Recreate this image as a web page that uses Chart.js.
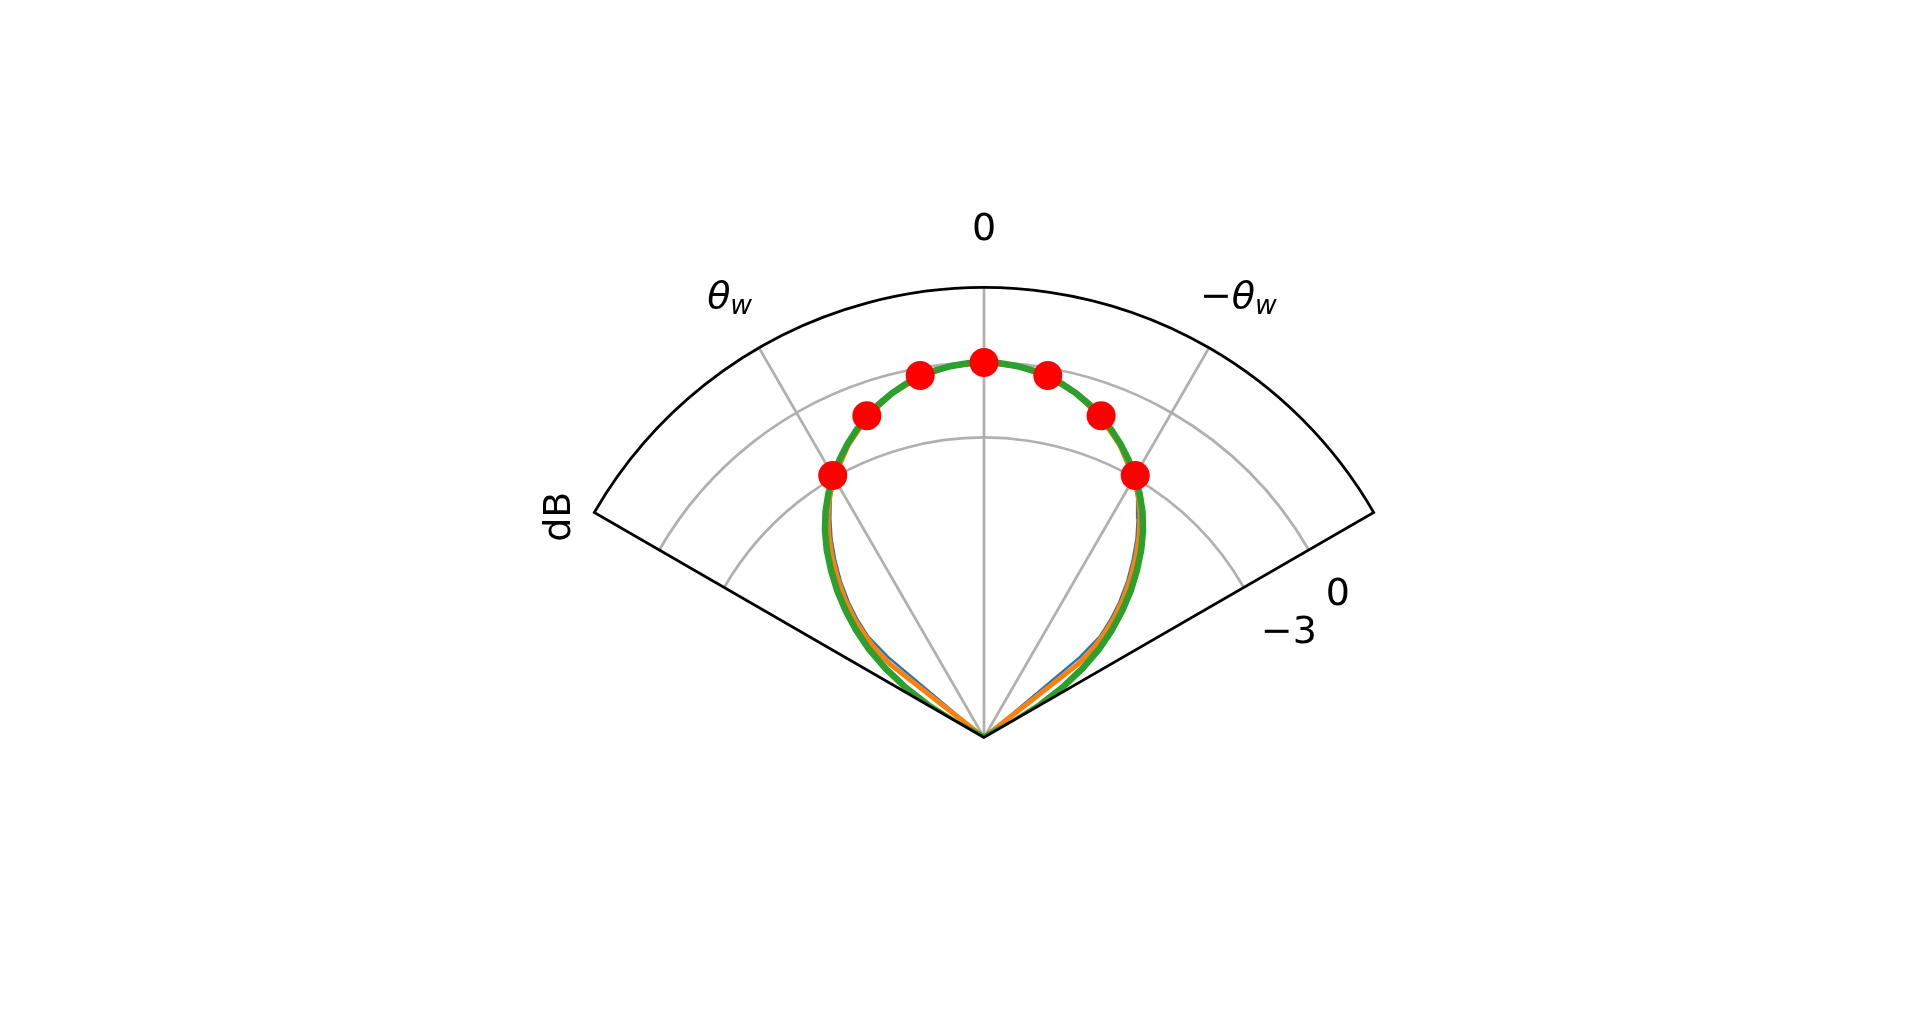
<!DOCTYPE html>
<html><head><meta charset="utf-8">
<script src="https://cdn.jsdelivr.net/npm/chart.js@4.4.1/dist/chart.umd.min.js"></script>
<style>html,body{margin:0;padding:0;background:#fff;overflow:hidden}canvas{display:block}</style>
</head><body>
<canvas id="c" width="1920" height="1016"></canvas>
<script>
// ---- radial / angular axes ----
const R_MIN_DB = -15;
const R_MAX_DB = 3;
const SECTOR_DEG = 60;
const rTicks = [-3, 0];
const rTickLabels = ['\u22123', '0'];
const thetaTicks = [30, 0, -30];
const thetaTickMain = ['\u03B8', '0', '\u2212\u03B8'];
const thetaTickSub = ['w', '', 'w'];
const radialAxisLabel = 'dB';

// ---- series (one half, mirrored about 0) : angle in degrees, level in dB ----
const blueAngles   = [0, 5, 10, 15, 20, 25, 30, 32.5, 35, 37.5, 40, 42.5, 45, 47, 48.9, 50, 51];
const blueDb       = [0, -0.08, -0.33, -0.77, -1.37, -2.15, -3.05, -3.6, -4.28, -4.98, -5.75, -6.52, -7.35, -8.08, -8.86, -10.0, -15];
const orangeAngles = [0, 5, 10, 15, 20, 25, 30, 32.5, 35, 37.5, 40, 42.5, 45, 47.5, 49.5, 51, 52, 53.5];
const orangeDb     = [0, -0.08, -0.33, -0.76, -1.35, -2.12, -3.0, -3.52, -4.12, -4.8, -5.55, -6.32, -7.1, -7.97, -8.77, -9.48, -10.2, -15];
const greenAngles  = [0, 2.5, 5, 7.5, 10, 12.5, 15, 17.5, 20, 22.5, 25, 27.5, 30, 32.5, 35, 37.5, 40, 42.5, 45, 47.5, 50, 52.5, 55, 57.5, 60, 62.5, 65];
const greenDb      = [0, -0.02, -0.08, -0.19, -0.33, -0.52, -0.75, -1.02, -1.33, -1.68, -2.06, -2.48, -2.95, -3.42, -3.95, -4.55, -5.22, -5.95, -6.7, -7.5, -8.33, -9.2, -10.2, -11.3, -12.5, -13.8, -15];
const dotAngles    = [-30, -20, -10, 0, 10, 20, 30];
const dotDb        = [-2.9, -1.3, -0.3, 0, -0.3, -1.3, -2.9];

const D2R = Math.PI / 180;
function toXY(deg, db) {
  const r = Math.max(db - R_MIN_DB, 0);
  return { x: -r * Math.sin(deg * D2R), y: r * Math.cos(deg * D2R) };
}
function mirrored(angles, dbs) {
  const pts = [];
  for (let i = angles.length - 1; i >= 1; i--) pts.push(toXY(-angles[i], dbs[i]));
  for (let i = 0; i < angles.length; i++) pts.push(toXY(angles[i], dbs[i]));
  return pts;
}

const FONT = '"DejaVu Sans", "Liberation Sans", sans-serif';

const polarDecor = {
  id: 'polarDecor',
  geom(chart) {
    const { x, y } = chart.scales;
    const cx = x.getPixelForValue(0), cy = y.getPixelForValue(0);
    const k = x.getPixelForValue(1) - cx;
    return { cx, cy, k, R: (R_MAX_DB - R_MIN_DB) * k, s: SECTOR_DEG * D2R };
  },
  beforeDatasetsDraw(chart) {
    const ctx = chart.ctx;
    const { cx, cy, k, R, s } = this.geom(chart);
    ctx.save();
    ctx.strokeStyle = '#b0b0b0';
    ctx.lineWidth = 2.7;
    for (const t of rTicks) {
      ctx.beginPath();
      ctx.arc(cx, cy, (t - R_MIN_DB) * k, -Math.PI / 2 - s, -Math.PI / 2 + s);
      ctx.stroke();
    }
    for (const th of thetaTicks) {
      const a = th * D2R;
      ctx.beginPath();
      ctx.moveTo(cx, cy);
      ctx.lineTo(cx - R * Math.sin(a), cy - R * Math.cos(a));
      ctx.stroke();
    }
    ctx.restore();
    ctx.save();
    ctx.beginPath();
    ctx.moveTo(cx, cy);
    ctx.arc(cx, cy, R, -Math.PI / 2 - s, -Math.PI / 2 + s);
    ctx.closePath();
    ctx.clip();
  },
  afterDatasetsDraw(chart) {
    const ctx = chart.ctx;
    ctx.restore();
    const { cx, cy, k, R, s } = this.geom(chart);
    ctx.save();
    // spines
    ctx.strokeStyle = '#000';
    ctx.lineWidth = 2.7;
    ctx.lineJoin = 'miter';
    ctx.beginPath();
    ctx.moveTo(cx, cy);
    ctx.lineTo(cx - R * Math.sin(s), cy - R * Math.cos(s));
    ctx.arc(cx, cy, R, -Math.PI / 2 - s, -Math.PI / 2 + s);
    ctx.closePath();
    ctx.stroke();
    // angular tick labels
    ctx.fillStyle = '#000';
    ctx.textBaseline = 'alphabetic';
    ctx.textAlign = 'left';
    const rl = R + 58.75;
    thetaTicks.forEach((th, i) => {
      const a = th * D2R;
      const ax = cx - rl * Math.sin(a), ay = cy - rl * Math.cos(a);
      const base = ay + 11.5;
      const parts = [];
      let main = thetaTickMain[i];
      if (main.startsWith('\u2212')) { parts.push({ t: '\u2212', f: '38px ' + FONT, dy: 0 }); main = main.slice(1); }
      const isDigit = /^[0-9]+$/.test(main);
      parts.push({ t: main, f: (isDigit ? '' : 'italic ') + '38px ' + FONT, dy: 0 });
      if (thetaTickSub[i]) parts.push({ t: thetaTickSub[i], f: 'italic 26.6px ' + FONT, dy: 5.5 });
      let total = 0;
      parts.forEach(p => { ctx.font = p.f; p.w = ctx.measureText(p.t).width; total += p.w; });
      let px = ax - total / 2;
      parts.forEach(p => { ctx.font = p.f; ctx.fillText(p.t, px, base + p.dy); px += p.w; });
    });
    // radial tick labels (along the right edge)
    ctx.font = '38px ' + FONT;
    rTicks.forEach((t, i) => {
      const rp = (t - R_MIN_DB) * k;
      const tx = cx + rp * Math.sin(s), ty = cy - rp * Math.cos(s);
      ctx.fillText(rTickLabels[i], tx + 17, ty + 55);
    });
    // radial axis label
    ctx.save();
    ctx.translate(cx - 430, cy - 220.8);
    ctx.rotate(-Math.PI / 2);
    ctx.textAlign = 'center';
    ctx.fillText(radialAxisLabel, 0, 15.5);
    ctx.restore();
    ctx.restore();
  }
};

new Chart(document.getElementById('c'), {
  type: 'scatter',
  data: {
    datasets: [
      { label: 'points', data: dotAngles.map((a, i) => toXY(a, dotDb[i])), order: 0,
        backgroundColor: '#ff0000', borderWidth: 0, pointRadius: 14.5, showLine: false },
      { label: 'green', data: mirrored(greenAngles, greenDb), order: 1, showLine: true,
        borderColor: '#2ca02c', borderWidth: 6.5, pointRadius: 0, fill: false, clip: false },
      { label: 'orange', data: mirrored(orangeAngles, orangeDb), order: 2, showLine: true,
        borderColor: '#ff7f0e', borderWidth: 5, pointRadius: 0, fill: false, clip: false },
      { label: 'blue', data: mirrored(blueAngles, blueDb), order: 3, showLine: true,
        borderColor: '#1f77b4', borderWidth: 2.5, pointRadius: 0, fill: false, clip: false }
    ]
  },
  options: {
    responsive: false,
    animation: false,
    layout: { padding: 0, autoPadding: false },
    plugins: { legend: { display: false }, tooltip: { enabled: false } },
    scales: {
      x: { type: 'linear', display: false, min: -39.36, max: 37.44 },
      y: { type: 'linear', display: false, min: -11.14, max: 29.5 }
    }
  },
  plugins: [polarDecor]
});
</script>
</body></html>
